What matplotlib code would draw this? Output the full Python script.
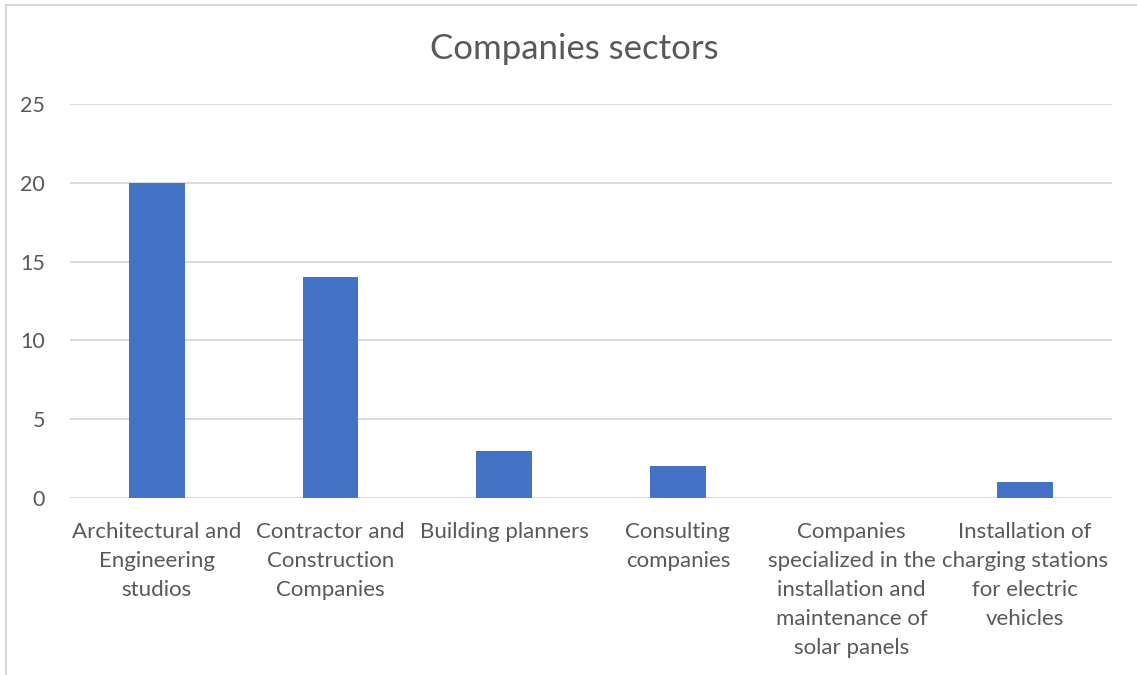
import matplotlib.pyplot as plt
from matplotlib.lines import Line2D

# Sector counts
sectors = [
    "Architectural and\nEngineering\nstudios",
    "Contractor and\nConstruction\nCompanies",
    "Building planners",
    "Consulting\ncompanies",
    "Companies\nspecialized in the\ninstallation and\nmaintenance of\nsolar panels",
    "Installation of\ncharging stations\nfor electric\nvehicles",
]
counts = [20, 14, 3, 2, 0, 1]
y_ticks = [0, 5, 10, 15, 20, 25]

text_grey = "#595959"
grid_grey = "#D9D9D9"
bar_blue = "#4472C4"

plt.rcParams['font.family'] = ['Lato', 'DejaVu Sans']

fig = plt.figure(figsize=(11.37, 6.75), dpi=100)
ax = fig.add_axes([70 / 1137, 1 - 498 / 675, (1112 - 70) / 1137, (498 - 104) / 675])

x = range(len(sectors))
ax.bar(x, counts, width=0.32, color=bar_blue, zorder=3)

ax.set_xlim(-0.5, len(sectors) - 0.5)
ax.set_ylim(0, 25)
ax.set_yticks(y_ticks)
ax.set_xticks(list(x))
ax.set_xticklabels(sectors, linespacing=1.56, fontsize=16)

ax.grid(axis="y", color=grid_grey, linewidth=1.3, zorder=0)
for s in ax.spines.values():
    s.set_visible(False)
ax.tick_params(axis="both", length=0, colors=text_grey)
ax.tick_params(axis="y", pad=18, labelsize=15.5)
ax.tick_params(axis="x", pad=17.5)

fig.text(574 / 1137, 1 - 49 / 675, "Companies sectors", ha="center", va="center",
         fontsize=25, color=text_grey)

# chart border (top and left edges)
fig.add_artist(Line2D([6 / 1137, 1], [1 - 5 / 675, 1 - 5 / 675], color=grid_grey, linewidth=1.5))
fig.add_artist(Line2D([6 / 1137, 6 / 1137], [0, 1 - 5 / 675], color=grid_grey, linewidth=1.5))

fig.savefig("out.png", dpi=100, facecolor="white")
